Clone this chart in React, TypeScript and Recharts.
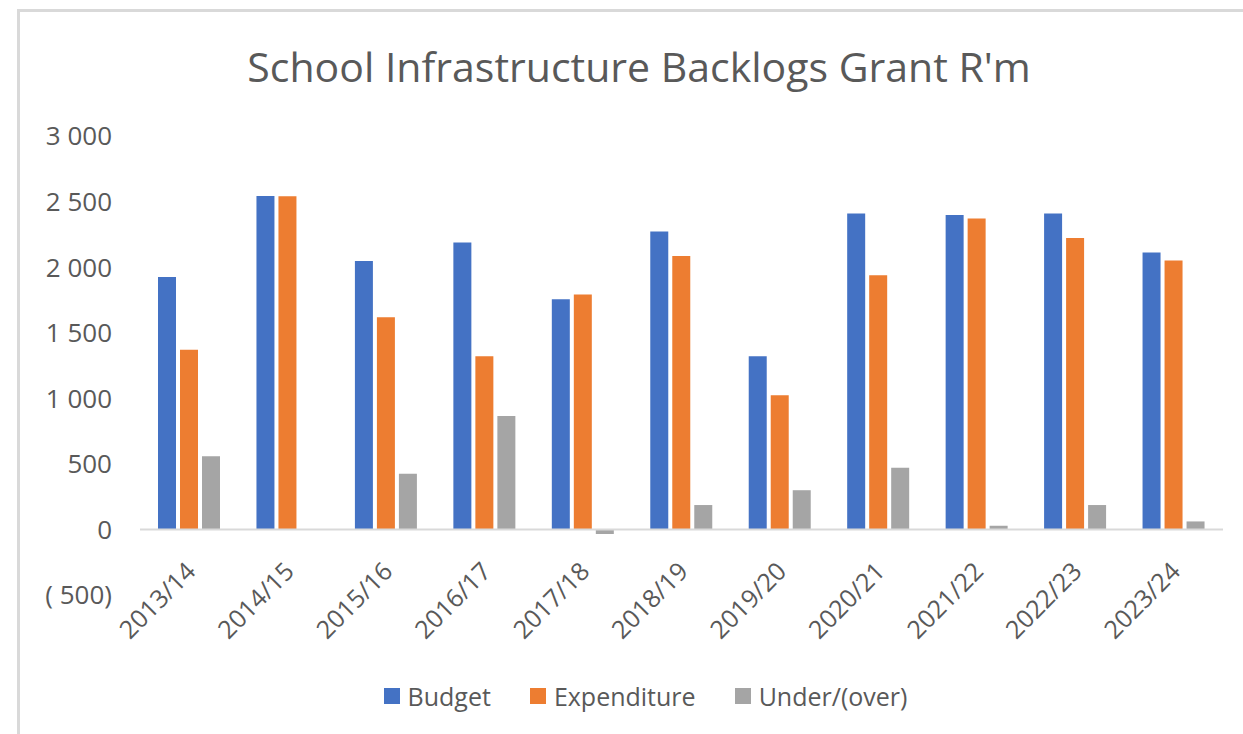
import React from 'react';
import { BarChart, Bar, XAxis, YAxis, ReferenceLine } from 'recharts';

const categories = ['2013/14', '2014/15', '2015/16', '2016/17', '2017/18', '2018/19', '2019/20', '2020/21', '2021/22', '2022/23', '2023/24'];
const budget = [1925, 2543, 2047, 2187, 1756, 2271, 1321, 2409, 2398, 2409, 2111];
const expenditure = [1370, 2541, 1617, 1321, 1791, 2085, 1024, 1938, 2370, 2223, 2050];
const underOver = [558, 0, 425, 864, -35, 186, 299, 471, 28, 186, 61];
const yTicks = [-500, 0, 500, 1000, 1500, 2000, 2500, 3000];
const title = "School Infrastructure Backlogs Grant R'm";
const seriesNames = ['Budget', 'Expenditure', 'Under/(over)'];
const seriesKeys = ['budget', 'expenditure', 'under'];
const seriesColors = ['#4472C4', '#ED7D31', '#A5A5A5'];

const data = categories.map((c, i) => ({
  year: c,
  budget: budget[i],
  expenditure: expenditure[i],
  under: underOver[i],
}));

const FONT = '"Open Sans", "Noto Sans", sans-serif';
const TEXT = '#595959';

function fmt(v: number): string {
  if (v === 0) return '0';
  const abs = Math.abs(v);
  const s = abs >= 1000 ? `${Math.floor(abs / 1000)} ${String(abs % 1000).padStart(3, '0')}` : `${abs}`;
  return v < 0 ? `( ${s})` : s;
}

const XTick = (props: any) => {
  const { x, y, payload } = props;
  const ax = x + 8;
  const ay = y - 22;
  return (
    <text
      x={ax}
      y={ay}
      transform={`rotate(-45, ${ax}, ${ay})`}
      textAnchor="end"
      fill={TEXT}
      fontSize={25}
      fontFamily={FONT}
    >
      {payload.value}
    </text>
  );
};

const YTick = (props: any) => {
  const { x, y, payload } = props;
  return (
    <text x={x} y={y} dy="0.36em" textAnchor="end" fill={TEXT} fontSize={26} fontFamily={FONT}>
      {fmt(payload.value)}
    </text>
  );
};

export default function App() {
  return (
    <div style={{ position: 'absolute', left: 0, top: 0, width: 1243, height: 734, overflow: 'hidden', background: '#fff' }}>
      <div
        style={{
          position: 'absolute',
          left: 17,
          top: 9,
          width: 1400,
          height: 900,
          borderLeft: '3px solid #D9D9D9',
          borderTop: '3px solid #D9D9D9',
        }}
      />
      <div style={{ position: 'absolute', left: 0, top: 0 }}>
        <BarChart
          width={1243}
          height={734}
          data={data}
          margin={{ top: 136, right: 20, bottom: 109, left: 0 }}
          barSize={18}
          barGap={4}
        >
          <XAxis
            dataKey="year"
            axisLine={false}
            tickLine={false}
            tickSize={0}
            tickMargin={0}
            height={30}
            interval={0}
            tick={<XTick />}
          />
          <YAxis
            domain={[-500, 3000]}
            ticks={yTicks}
            width={140}
            axisLine={false}
            tickLine={false}
            tickSize={0}
            tickMargin={28}
            interval={0}
            tick={<YTick />}
          />
          {seriesKeys.map((k, i) => (
            <Bar key={k} dataKey={k} name={seriesNames[i]} fill={seriesColors[i]} isAnimationActive={false} />
          ))}
          <ReferenceLine y={0} stroke="#D9D9D9" strokeWidth={2} />
        </BarChart>
      </div>
      <svg width={1243} height={734} style={{ position: 'absolute', left: 0, top: 0, pointerEvents: 'none' }}>
        <text x={639} y={82} textAnchor="middle" fill={TEXT} fontSize={41} fontFamily={FONT}>
          {title}
        </text>
      </svg>
      <div
        style={{
          position: 'absolute',
          left: 0,
          top: 681,
          width: 1291,
          display: 'flex',
          justifyContent: 'center',
          alignItems: 'center',
          gap: 39,
          fontFamily: FONT,
          fontSize: 25,
          lineHeight: '30px',
          color: TEXT,
        }}
      >
        {seriesNames.map((n, i) => (
          <div key={n} style={{ display: 'flex', alignItems: 'center' }}>
            <span style={{ display: 'inline-block', width: 16, height: 16, background: seriesColors[i], marginRight: 8 }} />
            <span>{n}</span>
          </div>
        ))}
      </div>
    </div>
  );
}
